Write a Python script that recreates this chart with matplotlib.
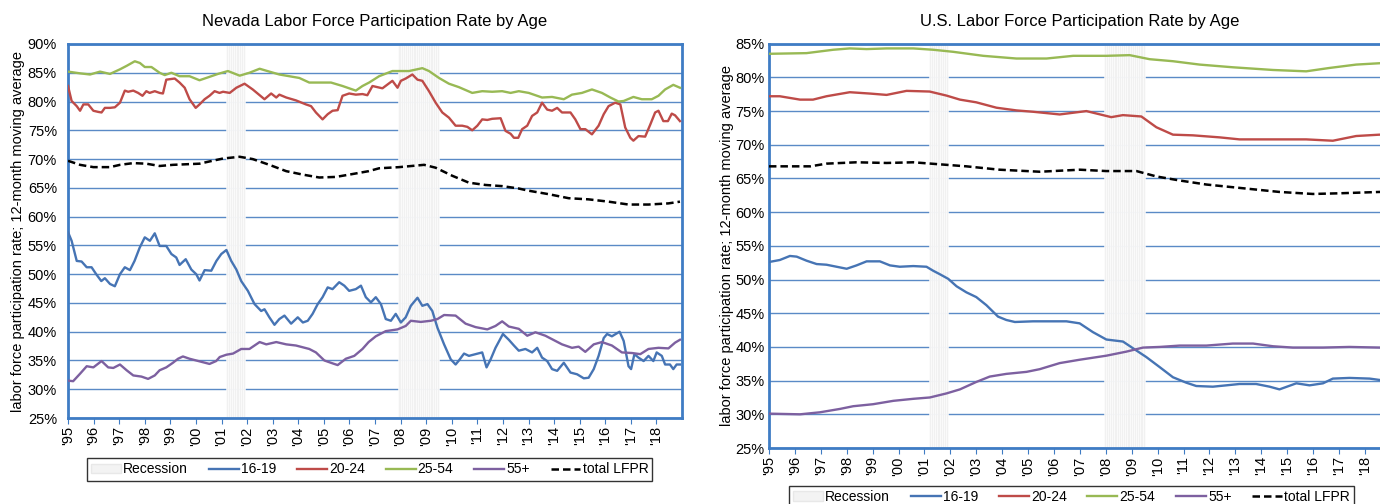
import matplotlib.pyplot as plt
from matplotlib.patches import Patch
from matplotlib.lines import Line2D

plt.rcParams['font.family'] = ['Liberation Sans', 'DejaVu Sans']

# ---- Nevada (12-month moving averages, %) ----
nv_1619_t = [1995.0, 1995.14, 1995.34, 1995.53, 1995.73, 1995.92, 1996.1, 1996.3, 1996.44, 1996.64,
             1996.83, 1997.03, 1997.22, 1997.42, 1997.6, 1997.8, 1998.0, 1998.2, 1998.39, 1998.58,
             1998.84, 1999.04, 1999.23, 1999.36, 1999.6, 1999.82, 2000.01, 2000.14, 2000.34, 2000.6,
             2000.8, 2000.99, 2001.19, 2001.38, 2001.58, 2001.77, 2002.03, 2002.29, 2002.55, 2002.68,
             2002.87, 2003.07, 2003.26, 2003.46, 2003.72, 2003.98, 2004.18, 2004.37, 2004.56, 2004.76,
             2004.95, 2005.15, 2005.34, 2005.6, 2005.8, 2005.99, 2006.25, 2006.45, 2006.64, 2006.84,
             2007.03, 2007.23, 2007.42, 2007.62, 2007.81, 2008.01, 2008.2, 2008.4, 2008.66, 2008.85,
             2009.05, 2009.24, 2009.44, 2009.7, 2009.96, 2010.15, 2010.28, 2010.48, 2010.67, 2010.93,
             2011.19, 2011.36, 2011.52, 2011.71, 2012.0, 2012.23, 2012.43, 2012.62, 2012.88, 2013.14,
             2013.34, 2013.53, 2013.73, 2013.92, 2014.12, 2014.38, 2014.64, 2014.9, 2015.16, 2015.35,
             2015.55, 2015.74, 2015.94, 2016.07, 2016.26, 2016.56, 2016.72, 2016.91, 2017.01, 2017.14,
             2017.3, 2017.5, 2017.69, 2017.88, 2018.01, 2018.21, 2018.34, 2018.53, 2018.66, 2018.79,
             2018.92]
nv_1619 = [57.3, 55.8, 52.3, 52.2, 51.2, 51.2, 50.0, 48.8, 49.3, 48.3,
           47.9, 50.0, 51.2, 50.7, 52.3, 54.6, 56.4, 55.8, 57.1, 54.9,
           54.9, 53.5, 52.9, 51.6, 52.6, 50.8, 50.0, 48.9, 50.7, 50.6,
           52.3, 53.5, 54.2, 52.3, 50.8, 48.8, 47.1, 44.8, 43.6, 43.9,
           42.5, 41.2, 42.2, 42.8, 41.4, 42.5, 41.6, 41.9, 43.1, 44.8,
           46.0, 47.7, 47.4, 48.6, 48.0, 47.1, 47.4, 48.0, 46.0, 45.1,
           46.0, 44.8, 42.2, 41.9, 43.1, 41.6, 42.5, 44.5, 45.9, 44.5,
           44.8, 43.6, 40.7, 37.8, 35.2, 34.3, 35.0, 36.2, 35.8, 36.1,
           36.4, 33.8, 35.2, 37.2, 39.6, 38.6, 37.6, 36.7, 37.0, 36.4,
           37.2, 35.5, 34.9, 33.5, 33.2, 34.6, 32.9, 32.6, 31.9, 32.0,
           33.5, 35.8, 38.9, 39.6, 39.2, 40.0, 38.4, 34.0, 33.5, 36.1,
           35.5, 34.9, 35.8, 34.9, 36.4, 35.8, 34.3, 34.3, 33.5, 34.3,
           34.3]

nv_2024_t = [1995.0, 1995.14, 1995.34, 1995.47, 1995.6, 1995.79, 1995.99, 1996.18, 1996.31, 1996.44,
             1996.64, 1996.83, 1997.03, 1997.22, 1997.35, 1997.55, 1997.74, 1997.91, 1998.06, 1998.19,
             1998.39, 1998.58, 1998.71, 1998.84, 1999.17, 1999.36, 1999.56, 1999.75, 1999.99, 2000.14,
             2000.34, 2000.53, 2000.73, 2000.92, 2001.06, 2001.32, 2001.58, 2001.9, 2002.22, 2002.68,
             2002.94, 2003.14, 2003.26, 2003.53, 2003.91, 2004.3, 2004.5, 2004.69, 2004.95, 2005.15,
             2005.34, 2005.54, 2005.73, 2005.99, 2006.25, 2006.51, 2006.7, 2006.9, 2007.29, 2007.68,
             2007.88, 2008.01, 2008.2, 2008.46, 2008.66, 2008.85, 2009.11, 2009.37, 2009.63, 2009.89,
             2010.15, 2010.41, 2010.61, 2010.8, 2011.0, 2011.19, 2011.39, 2011.58, 2011.91, 2012.1,
             2012.3, 2012.43, 2012.6, 2012.75, 2012.95, 2013.14, 2013.34, 2013.53, 2013.73, 2013.92,
             2014.12, 2014.31, 2014.64, 2014.83, 2015.03, 2015.22, 2015.48, 2015.74, 2015.94, 2016.13,
             2016.39, 2016.59, 2016.78, 2016.98, 2017.1, 2017.3, 2017.56, 2017.76, 2017.95, 2018.08,
             2018.27, 2018.45, 2018.6, 2018.73, 2018.92]
nv_2024 = [82.7, 80.1, 79.2, 78.4, 79.5, 79.5, 78.4, 78.2, 78.1, 78.9,
           78.9, 79.0, 79.8, 81.9, 81.7, 81.9, 81.5, 81.0, 81.8, 81.5,
           81.8, 81.5, 81.4, 83.8, 84.0, 83.3, 82.4, 80.4, 78.9, 79.5,
           80.4, 81.0, 81.8, 81.5, 81.7, 81.5, 82.4, 83.1, 82.1, 80.4,
           81.4, 80.7, 81.2, 80.7, 80.2, 79.5, 79.2, 78.1, 76.9, 77.8,
           78.4, 78.5, 81.0, 81.4, 81.2, 81.3, 81.1, 82.7, 82.3, 83.6,
           82.4, 83.6, 84.0, 84.7, 83.8, 83.6, 81.8, 79.8, 78.1, 77.2,
           75.8, 75.8, 75.6, 75.0, 75.8, 76.9, 76.8, 77.0, 77.1, 74.9,
           74.4, 73.7, 73.7, 75.2, 75.8, 77.5, 78.1, 79.8, 78.6, 78.4,
           78.9, 78.1, 78.1, 76.9, 75.2, 75.2, 74.3, 75.8, 77.8, 79.2,
           79.8, 79.5, 75.5, 73.7, 73.2, 74.0, 73.9, 76.0, 78.1, 78.4,
           76.6, 76.6, 77.9, 77.6, 76.6]

nv_2554_t = [1995.0, 1995.47, 1995.86, 1996.25, 1996.64, 1997.03, 1997.29, 1997.61, 1997.81, 1998.0,
             1998.26, 1998.58, 1998.78, 1999.04, 1999.36, 1999.75, 2000.14, 2000.47, 2000.86, 2001.25,
             2001.71, 2002.09, 2002.49, 2002.87, 2003.26, 2003.65, 2004.04, 2004.43, 2004.82, 2005.28,
             2005.73, 2006.25, 2006.51, 2006.77, 2007.16, 2007.68, 2008.33, 2008.85, 2009.11, 2009.5,
             2009.89, 2010.28, 2010.8, 2011.19, 2011.58, 2011.97, 2012.3, 2012.62, 2013.01, 2013.53,
             2013.92, 2014.38, 2014.7, 2015.09, 2015.48, 2015.87, 2016.2, 2016.52, 2016.72, 2017.1,
             2017.43, 2017.82, 2018.08, 2018.34, 2018.66, 2018.92]
nv_2554 = [85.2, 84.9, 84.7, 85.2, 84.8, 85.6, 86.2, 87.0, 86.7, 86.0,
           86.0, 85.0, 84.6, 85.0, 84.4, 84.4, 83.7, 84.2, 84.8, 85.3,
           84.5, 85.0, 85.7, 85.2, 84.7, 84.4, 84.1, 83.3, 83.3, 83.3,
           82.7, 81.9, 82.7, 83.3, 84.4, 85.3, 85.3, 85.8, 85.3, 84.1,
           83.1, 82.5, 81.5, 81.8, 81.7, 81.8, 81.5, 81.8, 81.5, 80.7,
           80.8, 80.4, 81.2, 81.5, 82.1, 81.5, 80.7, 80.0, 80.1, 80.8,
           80.4, 80.4, 81.0, 82.1, 82.9, 82.4]

nv_55_t = [1995.0, 1995.2, 1995.47, 1995.73, 1995.99, 1996.31, 1996.57, 1996.77, 1997.03, 1997.29,
           1997.55, 1997.87, 1998.13, 1998.39, 1998.58, 1998.84, 1999.1, 1999.3, 1999.49, 1999.75,
           2000.01, 2000.27, 2000.53, 2000.79, 2000.93, 2001.19, 2001.45, 2001.77, 2002.09, 2002.49,
           2002.75, 2003.14, 2003.53, 2003.91, 2004.43, 2004.69, 2005.02, 2005.34, 2005.54, 2005.86,
           2006.19, 2006.51, 2006.75, 2007.03, 2007.42, 2007.88, 2008.2, 2008.4, 2008.79, 2009.18,
           2009.44, 2009.7, 2010.15, 2010.54, 2010.93, 2011.39, 2011.71, 2011.97, 2012.23, 2012.62,
           2012.95, 2013.27, 2013.66, 2014.05, 2014.31, 2014.7, 2014.96, 2015.22, 2015.55, 2015.87,
           2016.26, 2016.65, 2017.04, 2017.37, 2017.69, 2018.08, 2018.47, 2018.73, 2018.92]
nv_55 = [31.5, 31.4, 32.7, 34.0, 33.8, 34.9, 33.8, 33.7, 34.3, 33.3,
         32.4, 32.2, 31.8, 32.4, 33.3, 33.8, 34.6, 35.3, 35.7, 35.3,
         35.0, 34.7, 34.4, 34.9, 35.6, 36.0, 36.2, 37.0, 37.0, 38.2,
         37.8, 38.2, 37.8, 37.6, 37.0, 36.4, 35.0, 34.5, 34.2, 35.3,
         35.8, 37.0, 38.2, 39.2, 40.1, 40.4, 41.0, 41.9, 41.7, 41.9,
         42.2, 42.9, 42.8, 41.4, 40.8, 40.4, 41.0, 41.8, 40.9, 40.5,
         39.3, 39.9, 39.3, 38.4, 37.8, 37.2, 37.4, 36.5, 37.8, 38.2,
         37.6, 36.4, 36.3, 36.1, 37.0, 37.2, 37.1, 38.1, 38.6]

nv_total_t = [1995.0, 1995.47, 1995.99, 1996.64, 1997.03, 1997.55, 1998.06, 1998.58, 1999.1, 1999.62,
              2000.14, 2000.54, 2001.06, 2001.71, 2002.22, 2002.87, 2003.53, 2004.18, 2004.82, 2005.47,
              2006.12, 2006.75, 2007.16, 2007.94, 2008.92, 2009.37, 2010.02, 2010.67, 2011.32, 2011.97,
              2012.6, 2013.01, 2013.79, 2014.57, 2015.35, 2016.13, 2016.91, 2017.69, 2018.47, 2018.92]
nv_total = [69.7, 69.0, 68.6, 68.6, 69.0, 69.3, 69.2, 68.8, 69.0, 69.1,
            69.2, 69.6, 70.1, 70.4, 70.0, 69.0, 67.9, 67.3, 66.8, 66.9,
            67.4, 67.9, 68.4, 68.6, 69.0, 68.5, 67.1, 65.9, 65.5, 65.3,
            64.9, 64.5, 63.9, 63.2, 63.0, 62.6, 62.1, 62.1, 62.3, 62.6]

# ---- U.S. ----
us_1619_t = [1995.0, 1995.42, 1995.81, 1996.07, 1996.45, 1996.84, 1997.22, 1997.61, 1998.0, 1998.38,
             1998.77, 1999.28, 1999.67, 2000.05, 2000.57, 2001.08, 2001.34, 2001.59, 2001.92, 2002.24,
             2002.62, 2003.0, 2003.39, 2003.84, 2004.16, 2004.49, 2005.19, 2005.84, 2006.48, 2006.99,
             2007.5, 2008.02, 2008.66, 2009.05, 2009.56, 2010.08, 2010.59, 2011.1, 2011.49, 2012.13,
             2012.65, 2013.16, 2013.8, 2014.32, 2014.7, 2015.35, 2015.86, 2016.38, 2016.76, 2017.4,
             2018.18, 2018.56, 2018.92]
us_1619 = [52.6, 52.9, 53.5, 53.4, 52.8, 52.3, 52.2, 51.9, 51.6, 52.1,
           52.7, 52.7, 52.1, 51.9, 52.0, 51.9, 51.3, 50.8, 50.1, 49.0,
           48.1, 47.4, 46.2, 44.5, 44.0, 43.7, 43.8, 43.8, 43.8, 43.5,
           42.2, 41.1, 40.8, 39.8, 38.5, 37.0, 35.5, 34.7, 34.2, 34.1,
           34.3, 34.5, 34.5, 34.1, 33.7, 34.6, 34.3, 34.6, 35.3, 35.4,
           35.3, 35.1, 35.1]

us_2024_t = [1995.0, 1995.42, 1996.2, 1996.7, 1997.22, 1998.12, 1998.9, 1999.54, 2000.31, 2001.2,
             2001.85, 2002.37, 2003.0, 2003.78, 2004.55, 2005.19, 2005.71, 2006.22, 2007.25, 2008.21,
             2008.66, 2009.37, 2009.95, 2010.59, 2011.36, 2012.39, 2013.16, 2014.45, 2015.73, 2016.76,
             2017.66, 2018.56, 2018.92]
us_2024 = [77.2, 77.2, 76.7, 76.7, 77.2, 77.8, 77.6, 77.4, 78.0, 77.9,
           77.3, 76.7, 76.3, 75.5, 75.1, 74.9, 74.7, 74.5, 75.0, 74.1,
           74.4, 74.2, 72.6, 71.5, 71.4, 71.1, 70.8, 70.8, 70.8, 70.6,
           71.3, 71.5, 71.4]

us_2554_t = [1995.0, 1996.45, 1997.48, 1998.12, 1998.77, 1999.54, 2000.57, 2001.34, 2002.1, 2003.27,
             2004.55, 2005.71, 2006.74, 2008.02, 2008.92, 2009.69, 2010.59, 2011.62, 2012.9, 2014.45,
             2015.73, 2016.63, 2017.66, 2018.56, 2018.92]
us_2554 = [83.5, 83.6, 84.1, 84.3, 84.2, 84.3, 84.3, 84.1, 83.8, 83.2,
           82.8, 82.8, 83.2, 83.2, 83.3, 82.7, 82.4, 81.9, 81.5, 81.1,
           80.9, 81.4, 81.9, 82.1, 82.1]

us_55_t = [1995.0, 1996.2, 1996.97, 1997.74, 1998.25, 1999.02, 1999.8, 2000.57, 2001.21, 2001.85,
           2002.37, 2003.0, 2003.52, 2004.16, 2004.94, 2005.45, 2006.22, 2006.99, 2008.02, 2008.79,
           2009.43, 2010.08, 2010.85, 2011.88, 2012.9, 2013.68, 2014.45, 2015.22, 2016.38, 2017.4,
           2018.56, 2018.92]
us_55 = [30.1, 30.0, 30.3, 30.8, 31.2, 31.5, 32.0, 32.3, 32.5, 33.1,
         33.7, 34.8, 35.6, 36.0, 36.3, 36.7, 37.6, 38.1, 38.7, 39.3,
         39.9, 40.0, 40.2, 40.2, 40.5, 40.5, 40.1, 39.9, 39.9, 40.0,
         39.9, 39.9]

us_total_t = [1995.0, 1996.6, 1997.22, 1998.38, 1999.54, 2000.57, 2001.59, 2002.62, 2003.9, 2005.45,
              2007.0, 2008.02, 2009.18, 2009.95, 2010.85, 2011.88, 2013.16, 2014.7, 2015.99, 2017.02,
              2018.56, 2018.92]
us_total = [66.8, 66.8, 67.2, 67.4, 67.3, 67.4, 67.1, 66.8, 66.3, 66.0,
            66.3, 66.1, 66.1, 65.3, 64.7, 64.1, 63.6, 63.0, 62.7, 62.8,
            63.0, 63.0]

# recessions: first month (as year fraction) and number of months
recession_start = [2001 + 2 / 12, 2007 + 11 / 12]
recession_months = [9, 19]

years = list(range(1995, 2019))
year_labels = ["'%02d" % (y % 100) for y in years]

BLUE = '#4674b4'
RED = '#be4b48'
GREEN = '#98b954'
PURPLE = '#7d60a0'
AXIS_BLUE = '#3f7cc4'
GRID_BLUE = '#5a8ac6'


def plot_panel(ax, series, ylim, title, ypad, ylabelpad):
    """
    Draw one participation-rate panel

    :param ax: axes to draw on
    :param series: list of (t, values) for 16-19, 20-24, 25-54, 55+, total
    :param ylim: (low, high) in percent
    :param title: panel title
    """
    lo, hi = ylim
    # recession shading drawn as monthly columns
    for start, n in zip(recession_start, recession_months):
        xs = [start + m / 12 for m in range(n)]
        ax.bar(xs, [hi - lo] * n, bottom=lo, width=1 / 12, align='edge',
               color='#f1f1f1', edgecolor='white', linewidth=0.4, zorder=1)

    colors = [BLUE, RED, GREEN, PURPLE]
    for (t, v), c in zip(series[:4], colors):
        ax.plot(t, v, color=c, lw=1.7, zorder=3)
    t, v = series[4]
    ax.plot(t, v, color='black', lw=1.8, ls=(0, (3, 1.6)), zorder=3)

    ax.set_ylim(lo, hi)
    ax.set_xlim(1995, 2019)
    ticks = list(range(lo, hi + 1, 5))
    ax.set_yticks(ticks)
    ax.set_yticklabels(['%d%%' % p for p in ticks], fontsize=10.5)
    ax.set_xticks(years)
    ax.set_xticklabels(year_labels, rotation=90, fontsize=10.5)
    ax.tick_params(axis='x', length=4, color=AXIS_BLUE, pad=2)
    ax.tick_params(axis='y', length=0, pad=ypad)
    ax.yaxis.grid(True, color=GRID_BLUE, lw=1.0, zorder=0)
    ax.set_axisbelow(True)
    for s in ax.spines.values():
        s.set_color(AXIS_BLUE)
        s.set_linewidth(2)
    ax.set_ylabel('labor force participation rate; 12-month moving average',
                  fontsize=10.5, labelpad=ylabelpad)
    ax.set_title(title, fontsize=12, pad=13)


def legend_handles():
    h = [Patch(facecolor='#f3f3f3', edgecolor='#e8e8e8', label='Recession')]
    for c, lab in zip([BLUE, RED, GREEN, PURPLE], ['16-19', '20-24', '25-54', '55+']):
        h.append(Line2D([], [], color=c, lw=1.7, label=lab))
    h.append(Line2D([], [], color='black', lw=1.8, ls=(0, (3, 1.6)), label='total LFPR'))
    return h


fig = plt.figure(figsize=(13.8, 5.04), dpi=100)

ax1 = fig.add_axes([0.0493, 0.1706, 0.4449, 0.7421])
plot_panel(ax1, [(nv_1619_t, nv_1619), (nv_2024_t, nv_2024), (nv_2554_t, nv_2554),
                 (nv_55_t, nv_55), (nv_total_t, nv_total)],
           (25, 90), 'Nevada Labor Force Participation Rate by Age', 8, 2)

ax2 = fig.add_axes([0.5572, 0.1111, 0.4507, 0.8022])
plot_panel(ax2, [(us_1619_t, us_1619), (us_2024_t, us_2024), (us_2554_t, us_2554),
                 (us_55_t, us_55), (us_total_t, us_total)],
           (25, 85), 'U.S. Labor Force Participation Rate by Age', 3, 1)

for ax, pos in [(ax1, (0.268, 0.0685)), (ax2, (0.7765, 0.014))]:
    leg = ax.legend(handles=legend_handles(), loc='center', bbox_to_anchor=pos,
                    bbox_transform=fig.transFigure, ncol=6, fontsize=10,
                    frameon=True, fancybox=False, handlelength=2.15,
                    columnspacing=1.5, handletextpad=0.15, borderpad=0.3)
    leg.get_frame().set_edgecolor('black')
    leg.get_frame().set_linewidth(1.0)

fig.savefig('out.png', dpi=100)
